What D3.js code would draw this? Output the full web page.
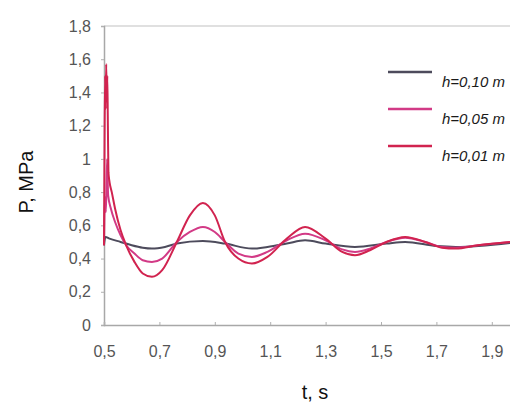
<!DOCTYPE html>
<html>
<head>
<meta charset="utf-8">
<script src="https://cdn.jsdelivr.net/npm/d3@7"></script>
<style>
    body { margin: 0; background: #ffffff; }
    svg { display: block; }
    .tick-label { font-family: "Liberation Sans", Arial, sans-serif; font-size: 16px; fill: #555555; }
    .axis-title { font-family: "Liberation Sans", Arial, sans-serif; font-size: 20px; fill: #111; }
    .legend-label { font-family: "Liberation Sans", Arial, sans-serif; font-size: 15px; font-style: italic; fill: #1a1a1a; }
</style>
</head>
<body>
<div id="chart"></div>
<script>
// Values.
var timeTicks = [0.5, 0.7, 0.9, 1.1, 1.3, 1.5, 1.7, 1.9];
var pressureTicks = [0, 0.2, 0.4, 0.6, 0.8, 1, 1.2, 1.4, 1.6, 1.8];

var seriesNames = ["h=0,10 m", "h=0,05 m", "h=0,01 m"];

// h = 0.10 m
var timeH10 = [0.500, 0.505, 0.520, 0.560, 0.600, 0.640, 0.673, 0.720, 0.763, 0.857, 0.937, 1.034, 1.090, 1.160, 1.226, 1.300, 1.406, 1.520, 1.587, 1.700, 1.770, 1.970];
var pressureH10 = [0.48, 0.53, 0.52, 0.50, 0.48, 0.465, 0.46, 0.47, 0.49, 0.505, 0.49, 0.46, 0.47, 0.49, 0.51, 0.49, 0.47, 0.49, 0.50, 0.475, 0.47, 0.495];

// h = 0.05 m
var timeH05 = [0.500, 0.503, 0.507, 0.511, 0.515, 0.525, 0.540, 0.560, 0.580, 0.610, 0.640, 0.673, 0.710, 0.763, 0.810, 0.857, 0.900, 0.937, 0.985, 1.034, 1.090, 1.160, 1.226, 1.300, 1.360, 1.406, 1.460, 1.520, 1.587, 1.660, 1.720, 1.770, 1.850, 1.970];
var pressureH05 = [0.48, 0.77, 0.68, 1.00, 0.78, 0.70, 0.62, 0.54, 0.48, 0.43, 0.39, 0.38, 0.40, 0.50, 0.56, 0.59, 0.56, 0.50, 0.43, 0.41, 0.44, 0.51, 0.55, 0.51, 0.455, 0.44, 0.46, 0.50, 0.525, 0.50, 0.47, 0.465, 0.48, 0.50];

// h = 0.01 m
var timeH01 = [0.500, 0.502, 0.504, 0.506, 0.508, 0.510, 0.512, 0.514, 0.516, 0.520, 0.528, 0.540, 0.560, 0.580, 0.610, 0.640, 0.673, 0.710, 0.763, 0.810, 0.857, 0.900, 0.937, 0.985, 1.034, 1.090, 1.160, 1.226, 1.300, 1.360, 1.406, 1.460, 1.520, 1.587, 1.660, 1.720, 1.770, 1.850, 1.970];
var pressureH01 = [0.48, 1.10, 1.50, 1.30, 1.57, 1.35, 1.50, 1.20, 0.92, 0.86, 0.80, 0.70, 0.57, 0.48, 0.38, 0.31, 0.29, 0.33, 0.50, 0.66, 0.735, 0.66, 0.50, 0.40, 0.37, 0.41, 0.52, 0.59, 0.52, 0.44, 0.42, 0.45, 0.50, 0.53, 0.50, 0.465, 0.46, 0.48, 0.50];

var seriesColors = ["#4d4b5c", "#d23a86", "#d1234f"];

class PressureChart {
    constructor(container) {
        var self = this;
        self.width = 510;
        self.height = 403;
        self.svg = d3.select(container)
            .append("svg")
            .attr("width", self.width)
            .attr("height", self.height);
        self.series = [
            {name: seriesNames[0], color: seriesColors[0], time: timeH10, pressure: pressureH10},
            {name: seriesNames[1], color: seriesColors[1], time: timeH05, pressure: pressureH05},
            {name: seriesNames[2], color: seriesColors[2], time: timeH01, pressure: pressureH01}
        ];
    }

    createScales() {
        var self = this;
        // The plot runs past the right edge of the picture, so the range goes beyond 510.
        self.x = d3.scaleLinear()
            .domain([0.5, 2.0])
            .range([104, 519.5]);
        self.y = d3.scaleLinear()
            .domain([0, 1.8])
            .range([325, 26]);
    }

    createAxes() {
        var self = this;
        var comma = function (d) {
            return String(d).replace(".", ",");
        };
        // Top border of the plot area.
        self.svg.append("line")
            .attr("x1", self.x(0.5))
            .attr("x2", self.width)
            .attr("y1", self.y(1.8))
            .attr("y2", self.y(1.8))
            .attr("stroke", "#d6d6d6")
            .attr("stroke-width", 1.5);

        var yAxis = self.svg.append("g")
            .attr("transform", "translate(" + self.x(0.5) + ",0)")
            .call(d3.axisLeft(self.y).tickValues(pressureTicks).tickSize(3).tickPadding(10).tickFormat(comma));
        var xAxis = self.svg.append("g")
            .attr("transform", "translate(0," + self.y(0) + ")")
            .call(d3.axisBottom(self.x).tickValues(timeTicks).tickSize(-3).tickPadding(21).tickFormat(comma));

        [yAxis, xAxis].forEach(function (axis) {
            axis.attr("font-family", null).attr("font-size", null);
            axis.select(".domain")
                .attr("stroke", "#a8a8a8")
                .attr("stroke-width", 1.5);
            axis.selectAll(".tick line")
                .attr("stroke", "#b0b0b0");
            axis.selectAll(".tick text")
                .attr("class", "tick-label")
                .attr("fill", null);
        });

        // Axis titles.
        self.svg.append("text")
            .attr("class", "axis-title")
            .attr("transform", "translate(33,182) rotate(-90)")
            .attr("text-anchor", "middle")
            .text("P, MPa");
        self.svg.append("text")
            .attr("class", "axis-title")
            .attr("x", 315)
            .attr("y", 399)
            .attr("text-anchor", "middle")
            .text("t, s");
    }

    createLines() {
        var self = this;
        var line = d3.line()
            .x(function (d) { return self.x(d[0]); })
            .y(function (d) { return self.y(d[1]); })
            .curve(d3.curveMonotoneX);
        self.svg.selectAll(".series")
            .data(self.series)
            .enter()
            .append("path")
            .attr("class", "series")
            .attr("fill", "none")
            .attr("stroke", function (d) { return d.color; })
            .attr("stroke-width", 2)
            .attr("stroke-linejoin", "round")
            .attr("d", function (d) {
                return line(d3.zip(d.time, d.pressure));
            });
    }

    createLegend() {
        var self = this;
        var rows = self.svg.selectAll(".legend-row")
            .data(self.series)
            .enter()
            .append("g")
            .attr("class", "legend-row")
            .attr("transform", function (d, i) {
                return "translate(388," + (72 + i * 37) + ")";
            });
        rows.append("line")
            .attr("x1", 0)
            .attr("x2", 44)
            .attr("stroke", function (d) { return d.color; })
            .attr("stroke-width", 2.5);
        rows.append("text")
            .attr("class", "legend-label")
            .attr("x", 54)
            .attr("y", 15)
            .text(function (d) { return d.name; });
    }

    draw() {
        var self = this;
        self.createScales();
        self.createAxes();
        self.createLines();
        self.createLegend();
    }
}

var chart = new PressureChart("#chart");
chart.draw();
</script>
</body>
</html>
